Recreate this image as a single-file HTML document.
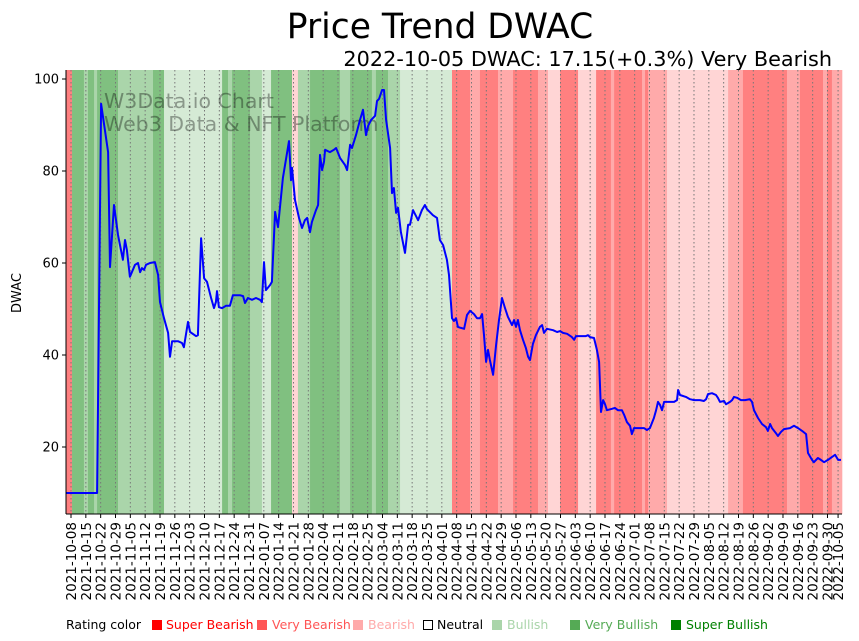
<!DOCTYPE html>
<html><head><meta charset="utf-8"><style>
html,body{margin:0;padding:0;background:#fff;}
svg{display:block;font-family:"DejaVu Sans","Liberation Sans",sans-serif;}
</style></head><body>
<svg id="chart" width="859" height="641" viewBox="0 0 859 641" xmlns="http://www.w3.org/2000/svg">
<text x="440" y="38" font-size="34.5" text-anchor="middle">Price Trend DWAC</text>
<text x="832" y="66" font-size="20.8" text-anchor="end">2022-10-05 DWAC: 17.15(+0.3%) Very Bearish</text>
<g id="bands"></g>
<g id="grid"></g>
<text x="104" y="108" font-size="20.5" fill="#000" fill-opacity="0.35">W3Data.io Chart</text>
<text x="104" y="131" font-size="20.5" fill="#000" fill-opacity="0.35">Web3 Data &amp; NFT Platform</text>
<path id="line" fill="none" stroke="#0000ff" stroke-width="2" stroke-linejoin="round"/>
<g id="yaxis"></g>
<g id="xaxis"></g>
<text transform="translate(21,293) rotate(-90)" font-size="13" text-anchor="middle">DWAC</text>
<g font-size="12.5">
<text x="66" y="629">Rating color</text>
<rect x="152" y="620" width="10" height="10" fill="#ff0000"/>
<text x="166" y="629" fill="#ff0000">Super Bearish</text>
<rect x="257" y="620" width="10" height="10" fill="#ff5555"/>
<text x="272" y="629" fill="#ff5555">Very Bearish</text>
<rect x="353" y="620" width="10" height="10" fill="#ffaaaa"/>
<text x="368" y="629" fill="#ffaaaa">Bearish</text>
<rect x="423.5" y="620.5" width="9" height="9" fill="#fff" stroke="#000"/>
<text x="437" y="629" fill="#000">Neutral</text>
<rect x="492" y="620" width="10" height="10" fill="#aad5aa"/>
<text x="507" y="629" fill="#aad5aa">Bullish</text>
<rect x="570" y="620" width="10" height="10" fill="#55aa55"/>
<text x="585" y="629" fill="#55aa55">Very Bullish</text>
<rect x="671" y="620" width="10" height="10" fill="#008000"/>
<text x="686" y="629" fill="#008000">Super Bullish</text>
</g>
</svg>
<script>
// price data: day offset from 2021-10-08, price
const priceDays = [-2.4,12.3,14.2,17.5,18.4,20.3,22.2,24.5,25.5,26.4,27.8,30.2,31.6,32.6,33.5,34.5,35.4,37.3,39.6,41.1,42.0,43.9,45.8,46.7,47.7,50.5,52.4,53.3,55.2,56.2,59.0,59.9,61.4,62.8,64.2,66.1,67.5,68.4,68.9,69.8,71.3,73.1,75.0,76.4,79.7,81.2,82.1,83.5,85.4,87.3,89.2,90.1,91.1,92.0,93.9,94.8,96.3,97.7,100.0,102.9,103.8,104.3,105.7,107.6,109.0,110.4,111.4,112.8,113.7,115.6,116.6,117.5,118.5,119.4,119.9,122.2,124.1,125.1,127.0,129.3,130.3,131.7,132.6,134.5,136.4,137.8,139.2,140.2,141.6,143.5,144.4,145.4,146.8,147.7,148.7,150.6,151.5,152.4,153.4,154.3,155.7,157.6,159.1,160.0,161.4,163.8,165.6,167.0,168.0,170.8,172.7,174.1,175.6,177.4,178.4,179.8,180.7,181.7,182.6,184.0,185.5,186.9,188.3,190.2,191.6,193.0,194.0,194.9,195.9,196.8,197.7,199.2,200.6,202.0,203.4,204.8,206.2,208.1,209.1,210.0,210.9,211.9,213.3,214.7,215.7,216.6,218.0,219.4,221.3,222.3,223.2,224.6,227.5,229.4,230.8,232.2,234.1,236.4,237.4,238.3,240.2,243.0,244.0,244.9,246.8,248.2,249.2,250.1,251.1,252.0,252.9,255.3,256.7,258.1,260.0,261.0,262.4,263.8,264.7,265.7,267.6,270.4,271.8,273.2,275.1,276.1,277.0,278.0,278.9,279.9,281.7,284.6,286.0,286.5,287.4,290.2,292.1,294.0,296.8,298.7,299.7,300.6,302.5,304.4,305.3,306.3,308.2,309.1,311.0,312.0,312.9,314.3,316.2,318.1,320.4,321.4,322.3,324.2,326.1,328.0,328.9,329.9,330.8,332.7,333.6,335.1,336.5,339.3,341.2,343.1,345.0,346.9,347.8,349.7,350.6,352.5,353.9,355.4,357.2,359.1,360.6,362.0,363.4];
const priceValues = [10,10,94.6,84.1,59.1,72.6,66.1,60.7,65.0,62.8,57.0,59.6,60.0,58.0,58.9,58.5,59.6,60.0,60.2,57.4,51.5,48.0,44.8,39.6,43.0,43.0,42.6,41.7,47.2,45.0,44.1,44.3,65.4,56.7,55.9,52.4,50.2,51.5,53.9,50.4,50.2,50.7,50.7,53.0,53.0,52.8,51.3,52.4,52.0,52.4,52.0,51.5,60.2,54.1,55.2,55.9,71.1,67.8,78.5,86.5,78.0,80.7,73.7,69.8,67.6,69.3,69.8,66.7,68.9,71.5,72.6,83.5,80.2,82.0,84.6,84.1,84.6,85.0,82.8,81.3,80.2,85.7,85.0,87.8,91.1,93.3,87.8,89.8,91.1,92.0,95.2,95.7,97.6,97.6,91.1,85.0,75.2,76.3,70.9,72.0,66.7,62.2,68.3,68.3,71.5,69.3,71.5,72.6,71.7,70.4,69.8,65.0,63.9,60.7,57.4,48.0,47.4,48.0,46.1,45.9,45.7,48.7,49.6,48.9,48.0,48.0,48.9,44.3,38.5,41.1,38.9,35.7,42.2,47.6,52.4,50.2,48.3,46.5,47.6,46.1,47.6,45.4,43.3,41.5,39.6,38.9,42.4,44.3,46.1,46.5,44.8,45.7,45.4,45.0,45.2,44.8,44.6,43.9,43.3,44.1,44.1,44.1,44.3,43.9,43.7,41.1,38.5,27.6,30.2,29.3,28.0,28.3,28.5,28.0,28.0,27.0,25.4,24.6,22.8,24.1,24.1,24.1,23.7,24.1,26.3,28.0,29.8,29.1,28.0,29.8,29.8,29.8,30.2,32.4,31.3,30.9,30.4,30.2,30.2,30.0,30.4,31.5,31.7,31.3,30.7,29.8,30.0,29.3,29.8,30.2,30.9,30.7,30.2,30.2,30.4,29.8,28.0,26.3,25.0,24.3,23.5,25.0,24.1,23.0,22.4,23.3,23.9,24.1,24.6,24.1,23.5,22.8,18.7,17.2,16.7,17.6,17.2,16.7,17.2,17.8,18.3,17.2,17.2];
// rating bands: start day and rating
const bandStarts = [-2.4,0.5,6.1,8.0,10.9,12.3,22.2,38.7,43.9,71.3,74.1,76.0,84.5,90.1,94.4,104.3,107.1,112.8,126.9,131.7,142.0,143.9,149.6,155.3,179.8,188.3,193.0,201.5,208.6,220.4,225.1,230.8,239.3,247.8,254.8,256.3,269.5,270.9,272.3,281.3,310.1,317.1,337.9,344.0,354.9,356.8,359.1,363.9];
const bandRatings = ["VR","VB","B","VB","B","VB","B","VB","PB","VB","B","VB","B","PB","VB","PR","B","VB","B","VB","B","VB","B","PB","VR","R","VR","R","VR","R","PR","VR","PR","VR","R","VR","R","VR","R","PR","R","VR","R","VR","R","VR","R"];
const yTicks = [20,40,60,80,100];
const xTickDays = [];
const xTickLabels = [];
(function(){
  const base = Date.UTC(2021,9,8);
  for (let k=0;k<=51;k++){ xTickDays.push(k*7); }
  xTickDays.push(362);
  xTickDays.forEach(d=>{ const t=new Date(base+d*86400000); xTickLabels.push(t.toISOString().slice(0,10)); });
})();

const ratingColor = {VR:"#ff8080",R:"#ffaaaa",PR:"#ffd5d5",PB:"#d5ead5",B:"#aad5aa",VB:"#80c080"};
const plotL=66, plotR=842, plotT=70, plotB=514;
const xScale = d => 71 + d*2.119;
const yScale = v => 447 - (v-20)*4.6;
const NS="http://www.w3.org/2000/svg";
function mk(tag, attrs, parent){ const e=document.createElementNS(NS,tag); for(const k in attrs) e.setAttribute(k,attrs[k]); parent.appendChild(e); return e; }

const bands=document.getElementById('bands');
for (let i=0;i<bandRatings.length;i++){
  const x0=Math.max(plotL,xScale(bandStarts[i])), x1=Math.min(plotR,xScale(bandStarts[i+1]));
  const r=mk('rect',{x:x0,y:plotT,width:Math.max(0,x1-x0)+0.3,height:plotB-plotT,fill:ratingColor[bandRatings[i]]},bands);
  
  
}
const grid=document.getElementById('grid');
const xaxis=document.getElementById('xaxis');
xTickDays.forEach((d,i)=>{
  const x=xScale(d);
  const g=mk('line',{x1:x,x2:x,y1:plotT,y2:plotB,stroke:"#777",'stroke-width':1,'stroke-dasharray':"1.5,2.5"},grid);
  
  
  const t=mk('line',{x1:x,x2:x,y1:plotB,y2:plotB+4,stroke:"#000",'stroke-width':1},xaxis);
  
  
  const lb=mk('text',{transform:`translate(${x+5},${plotB+8}) rotate(-90)`,'font-size':13.5,'text-anchor':'end'},xaxis);
  lb.textContent=xTickLabels[i];
  
  
});
const yaxis=document.getElementById('yaxis');
yTicks.forEach(v=>{
  const y=yScale(v);
  const t=mk('line',{x1:plotL-4,x2:plotL,y1:y,y2:y,stroke:"#000"},yaxis);
  
  
  const lb=mk('text',{x:plotL-7,y:y+4.5,'font-size':13,'text-anchor':'end'},yaxis);
  lb.textContent=v;
  
  
});
const sp1=mk('line',{x1:plotL,x2:plotL,y1:plotT,y2:plotB,stroke:"#000"},yaxis);


const sp2=mk('line',{x1:plotL,x2:plotR,y1:plotB,y2:plotB,stroke:"#000"},xaxis);



let dstr="";
priceDays.forEach((d,i)=>{ const x=Math.max(plotL,Math.min(plotR,xScale(d))); dstr+=(i?"L":"M")+x.toFixed(1)+","+yScale(priceValues[i]).toFixed(1); });
document.getElementById('line').setAttribute('d',dstr);
</script>
</body></html>
